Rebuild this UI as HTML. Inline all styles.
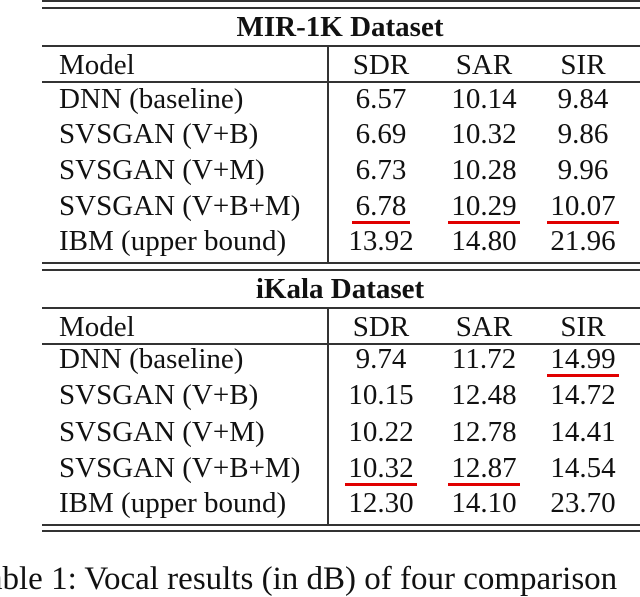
<!DOCTYPE html>
<html><head><meta charset="utf-8"><style>
body{margin:0;width:640px;height:574px;overflow:hidden;background:#fff;position:relative;font-family:"Liberation Serif",serif;color:#111}
.l{position:absolute;left:42px;width:600px;background:#333}
.t{position:absolute;font-size:29px;line-height:32px;white-space:nowrap}
.c{transform:translateX(-50%)}
.h{font-weight:bold}
.u{position:absolute;height:3px;background:#e00000}
</style></head><body>
<div id="tbl"></div>
<script>
const datasets=["MIR-1K Dataset","iKala Dataset"];
const models=[["DNN (baseline)","SVSGAN (V+B)","SVSGAN (V+M)","SVSGAN (V+B+M)","IBM (upper bound)"],["DNN (baseline)","SVSGAN (V+B)","SVSGAN (V+M)","SVSGAN (V+B+M)","IBM (upper bound)"]];
const sdr=[["6.57","6.69","6.73","6.78","13.92"],["9.74","10.15","10.22","10.32","12.30"]];
const sar=[["10.14","10.32","10.28","10.29","14.80"],["11.72","12.48","12.78","12.87","14.10"]];
const sir=[["9.84","9.86","9.96","10.07","21.96"],["14.99","14.72","14.41","14.54","23.70"]];
const best=[[[3,0],[3,1],[3,2]],[[0,2],[3,0],[3,1]]];
const cols=[381,484,583];
const root=document.body;
function add(cls,txt,x,y,st){const d=document.createElement('div');d.className=cls;if(txt)d.textContent=txt;d.style.left=x+'px';d.style.top=y+'px';if(st)Object.assign(d.style,st);root.appendChild(d);return d;}
function line(y,h){const d=add('l','',42,y,{height:h+'px'});

}
const rowY=[[83,118,154,190,225],[343,379,416,452,487]];
line(0,2);line(7,2);
datasets.forEach((ds,s)=>{
 const top=s===0?9:271;
 if(s===1){line(262,2);line(269,2);}
 const ti=add('t c h',ds,340,top+2);
 
 
 const hy=top+36;line(hy,2);
 const hdr=[['Model',59],['SDR',cols[0]],['SAR',cols[1]],['SIR',cols[2]]];
 hdr.forEach(([t,x],i)=>{const e=add('t'+(i?' c':''),t,x,hy+4);
 
 });
 line(hy+36,2);
 const v=add('l','',327,hy,{width:'2px',height:(s===0?262-hy:524-hy)+'px'});
 
 
 const vals=[sdr[s],sar[s],sir[s]];
 models[s].forEach((m,r)=>{
  const y=rowY[s][r];
  const e=add('t',m,59,y);
  
  
  vals.forEach((arr,c)=>{const ce=add('t c',arr[r],cols[c],y);
  
  });
 });
 best[s].forEach(([r,c])=>{const w=vals[c][r].length*14+2;
  const u=add('u','',cols[c]-w/2,rowY[s][r]+31,{width:w+'px'});
  
  });
});
line(524,2);line(530,2);
const cap=add('t','Table 1: Vocal results (in dB) of four comparison',-30,561,{fontSize:'33px',lineHeight:'36px'});


</script>
</body></html>
